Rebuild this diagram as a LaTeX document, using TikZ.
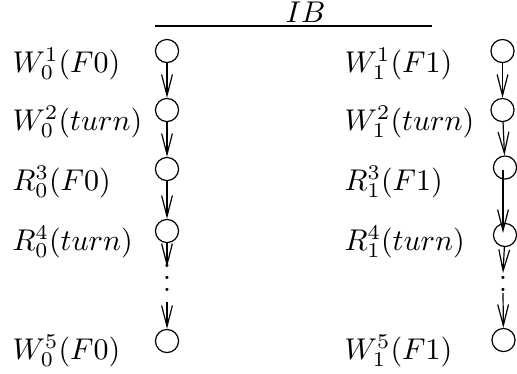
\documentclass[tikz,border=0pt]{standalone}
\usepackage{amsmath}
\usepackage{tikz}
\usetikzlibrary{arrows.meta}

\begin{document}
\begin{tikzpicture}[x=0.3333pt, y=-0.3333pt,
    state/.style={circle, draw, minimum size=7.7pt, inner sep=0pt},
    flow/.style={-{Straight Barb[length=7pt,width=3.6pt]}}]
  \useasboundingbox (0,0) rectangle (517,373);
  % heading
  \coordinate (ibl) at (155,26);
  \coordinate (ibr) at (432,26);
  \draw (ibl) -- (ibr);
  \node[anchor=base, inner sep=0pt] (ib) at (305.5,22) {$IB$};
  % process 0
  \foreach \n/\y/\b/\t in {
    1/51/72.5/{W_0^1(F0)},
    2/110/130.5/{W_0^2(turn)},
    3/169/190/{R_0^3(F0)},
    4/231/250.5/{R_0^4(turn)},
    5/341/359.5/{W_0^5(F0)}}{
    \node[state] (a\n) at (167,\y) {};
    \node[anchor=base west, inner sep=0pt] (la\n) at (12,\b) {$\t$};
  }
  % process 1
  \foreach \n/\x/\y/\b/\t in {
    1/502.5/51/72.5/{W_1^1(F1)},
    2/502.5/110/130.5/{W_1^2(turn)},
    3/505/167.5/190/{R_1^3(F1)},
    4/505/235/250.5/{R_1^4(turn)},
    5/503.5/340/359.5/{W_1^5(F1)}}{
    \node[state] (b\n) at (\x,\y) {};
    \node[anchor=base west, inner sep=0pt] (lb\n) at (344,\b) {$\t$};
  }
  \node[anchor=base, inner sep=0pt] (da) at (167,291.5) {$\vdots$};
  \node[anchor=base, inner sep=0pt] (db) at (503,291.5) {$\vdots$};
  \coordinate (ta) at (167,267);
  \coordinate (sa) at (167,302);
  \coordinate (b3in) at (503,170);
  \coordinate (b4in) at (503,233);
  \coordinate (tb) at (503,273);
  \coordinate (sb) at (503,293);
  \foreach \u/\v in {a1/a2, a2/a3, a3/a4, b1/b2, b2/b3}{
    \draw[flow] (\u) -- (\v);
  }
  \draw[flow] (a4) -- (ta);
  \draw[flow] (sa) -- (a5);
  \draw[flow] (b3in) -- (b4in);
  \draw[flow] (b4) -- (tb);
  \draw[flow] (sb) -- (b5);
\end{tikzpicture}
\end{document}
